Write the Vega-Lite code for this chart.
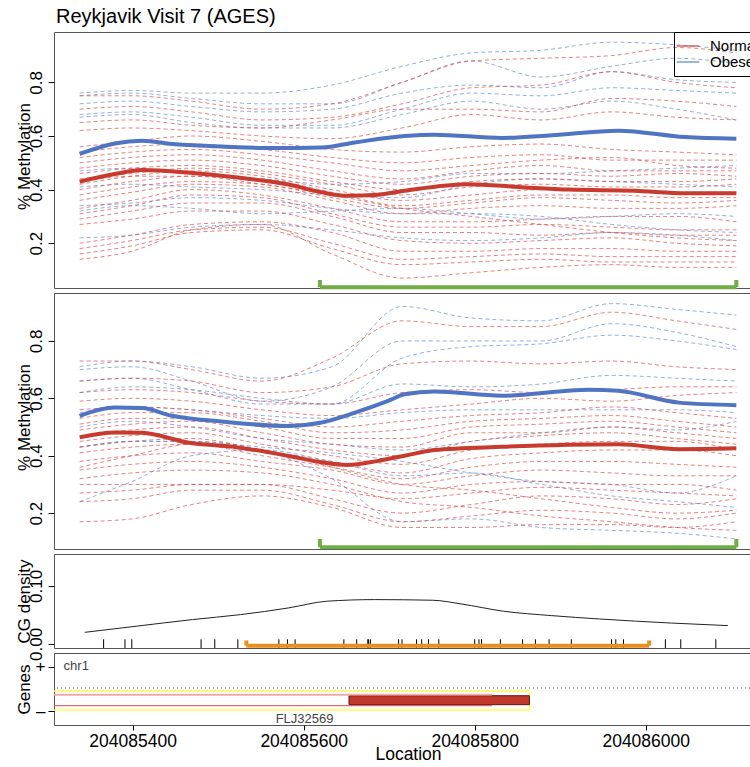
{
"$schema": "https://vega.github.io/schema/vega-lite/v6.json",
"padding": {"left": 14, "top": 6, "right": 0, "bottom": 0},
"config": {
  "font": "Liberation Sans",
  "view": {"stroke": "#555", "strokeWidth": 1},
  "axis": {"grid": false, "domain": false, "labelFont": "Liberation Sans", "titleFont": "Liberation Sans", "labelColor": "#000", "titleColor": "#000", "tickColor": "#000", "titleFontWeight": "normal", "labelFontSize": 17, "titleFontSize": 17}
},
"spacing": 5,
"bounds": "flush",
"resolve": {"scale": {"x": "independent", "y": "independent", "color": "independent"}},
"datasets": {
"p1": [
{"s":"o1","g":"Obese","x":204085338,"y":0.76},{"s":"o1","g":"Obese","x":204085399,"y":0.77},{"s":"o1","g":"Obese","x":204085469,"y":0.76},{"s":"o1","g":"Obese","x":204085551,"y":0.76},{"s":"o1","g":"Obese","x":204085633,"y":0.79},{"s":"o1","g":"Obese","x":204085715,"y":0.86},{"s":"o1","g":"Obese","x":204085796,"y":0.91},{"s":"o1","g":"Obese","x":204085878,"y":0.92},{"s":"o1","g":"Obese","x":204085960,"y":0.95},{"s":"o1","g":"Obese","x":204086036,"y":0.94},{"s":"o1","g":"Obese","x":204086106,"y":0.92},
{"s":"o2","g":"Obese","x":204085338,"y":0.75},{"s":"o2","g":"Obese","x":204085399,"y":0.76},{"s":"o2","g":"Obese","x":204085469,"y":0.74},{"s":"o2","g":"Obese","x":204085551,"y":0.72},{"s":"o2","g":"Obese","x":204085633,"y":0.72},{"s":"o2","g":"Obese","x":204085715,"y":0.80},{"s":"o2","g":"Obese","x":204085796,"y":0.88},{"s":"o2","g":"Obese","x":204085878,"y":0.82},{"s":"o2","g":"Obese","x":204085960,"y":0.86},{"s":"o2","g":"Obese","x":204086036,"y":0.89},{"s":"o2","g":"Obese","x":204086106,"y":0.87},
{"s":"o3","g":"Obese","x":204085338,"y":0.72},{"s":"o3","g":"Obese","x":204085399,"y":0.73},{"s":"o3","g":"Obese","x":204085469,"y":0.71},{"s":"o3","g":"Obese","x":204085551,"y":0.69},{"s":"o3","g":"Obese","x":204085633,"y":0.70},{"s":"o3","g":"Obese","x":204085715,"y":0.76},{"s":"o3","g":"Obese","x":204085796,"y":0.79},{"s":"o3","g":"Obese","x":204085878,"y":0.78},{"s":"o3","g":"Obese","x":204085960,"y":0.84},{"s":"o3","g":"Obese","x":204086036,"y":0.81},{"s":"o3","g":"Obese","x":204086106,"y":0.80},
{"s":"o4","g":"Obese","x":204085338,"y":0.68},{"s":"o4","g":"Obese","x":204085399,"y":0.69},{"s":"o4","g":"Obese","x":204085469,"y":0.67},{"s":"o4","g":"Obese","x":204085551,"y":0.64},{"s":"o4","g":"Obese","x":204085633,"y":0.64},{"s":"o4","g":"Obese","x":204085715,"y":0.70},{"s":"o4","g":"Obese","x":204085796,"y":0.76},{"s":"o4","g":"Obese","x":204085878,"y":0.75},{"s":"o4","g":"Obese","x":204085960,"y":0.78},{"s":"o4","g":"Obese","x":204086036,"y":0.77},{"s":"o4","g":"Obese","x":204086106,"y":0.76},
{"s":"o5","g":"Obese","x":204085338,"y":0.67},{"s":"o5","g":"Obese","x":204085399,"y":0.68},{"s":"o5","g":"Obese","x":204085469,"y":0.65},{"s":"o5","g":"Obese","x":204085551,"y":0.63},{"s":"o5","g":"Obese","x":204085633,"y":0.63},{"s":"o5","g":"Obese","x":204085715,"y":0.68},{"s":"o5","g":"Obese","x":204085796,"y":0.73},{"s":"o5","g":"Obese","x":204085878,"y":0.70},{"s":"o5","g":"Obese","x":204085960,"y":0.73},{"s":"o5","g":"Obese","x":204086036,"y":0.70},{"s":"o5","g":"Obese","x":204086106,"y":0.66},
{"s":"o6","g":"Obese","x":204085338,"y":0.47},{"s":"o6","g":"Obese","x":204085399,"y":0.48},{"s":"o6","g":"Obese","x":204085469,"y":0.46},{"s":"o6","g":"Obese","x":204085551,"y":0.44},{"s":"o6","g":"Obese","x":204085633,"y":0.42},{"s":"o6","g":"Obese","x":204085715,"y":0.43},{"s":"o6","g":"Obese","x":204085796,"y":0.46},{"s":"o6","g":"Obese","x":204085878,"y":0.46},{"s":"o6","g":"Obese","x":204085960,"y":0.47},{"s":"o6","g":"Obese","x":204086036,"y":0.48},{"s":"o6","g":"Obese","x":204086106,"y":0.49},
{"s":"o7","g":"Obese","x":204085338,"y":0.41},{"s":"o7","g":"Obese","x":204085399,"y":0.42},{"s":"o7","g":"Obese","x":204085469,"y":0.41},{"s":"o7","g":"Obese","x":204085551,"y":0.40},{"s":"o7","g":"Obese","x":204085633,"y":0.38},{"s":"o7","g":"Obese","x":204085715,"y":0.37},{"s":"o7","g":"Obese","x":204085796,"y":0.42},{"s":"o7","g":"Obese","x":204085878,"y":0.44},{"s":"o7","g":"Obese","x":204085960,"y":0.43},{"s":"o7","g":"Obese","x":204086036,"y":0.42},{"s":"o7","g":"Obese","x":204086106,"y":0.41},
{"s":"o8","g":"Obese","x":204085338,"y":0.34},{"s":"o8","g":"Obese","x":204085399,"y":0.35},{"s":"o8","g":"Obese","x":204085469,"y":0.37},{"s":"o8","g":"Obese","x":204085551,"y":0.36},{"s":"o8","g":"Obese","x":204085633,"y":0.33},{"s":"o8","g":"Obese","x":204085715,"y":0.31},{"s":"o8","g":"Obese","x":204085796,"y":0.31},{"s":"o8","g":"Obese","x":204085878,"y":0.30},{"s":"o8","g":"Obese","x":204085960,"y":0.27},{"s":"o8","g":"Obese","x":204086036,"y":0.25},{"s":"o8","g":"Obese","x":204086106,"y":0.24},
{"s":"o9","g":"Obese","x":204085338,"y":0.22},{"s":"o9","g":"Obese","x":204085399,"y":0.23},{"s":"o9","g":"Obese","x":204085469,"y":0.26},{"s":"o9","g":"Obese","x":204085551,"y":0.27},{"s":"o9","g":"Obese","x":204085633,"y":0.25},{"s":"o9","g":"Obese","x":204085715,"y":0.22},{"s":"o9","g":"Obese","x":204085796,"y":0.21},{"s":"o9","g":"Obese","x":204085878,"y":0.22},{"s":"o9","g":"Obese","x":204085960,"y":0.24},{"s":"o9","g":"Obese","x":204086036,"y":0.23},{"s":"o9","g":"Obese","x":204086106,"y":0.21},
{"s":"o10","g":"Obese","x":204085338,"y":0.32},{"s":"o10","g":"Obese","x":204085399,"y":0.34},{"s":"o10","g":"Obese","x":204085469,"y":0.33},{"s":"o10","g":"Obese","x":204085551,"y":0.31},{"s":"o10","g":"Obese","x":204085633,"y":0.32},{"s":"o10","g":"Obese","x":204085715,"y":0.33},{"s":"o10","g":"Obese","x":204085796,"y":0.31},{"s":"o10","g":"Obese","x":204085878,"y":0.29},{"s":"o10","g":"Obese","x":204085960,"y":0.30},{"s":"o10","g":"Obese","x":204086036,"y":0.31},{"s":"o10","g":"Obese","x":204086106,"y":0.30},
{"s":"n1","g":"Normal","x":204085338,"y":0.75},{"s":"n1","g":"Normal","x":204085399,"y":0.75},{"s":"n1","g":"Normal","x":204085469,"y":0.73},{"s":"n1","g":"Normal","x":204085551,"y":0.70},{"s":"n1","g":"Normal","x":204085633,"y":0.72},{"s":"n1","g":"Normal","x":204085715,"y":0.80},{"s":"n1","g":"Normal","x":204085796,"y":0.88},{"s":"n1","g":"Normal","x":204085878,"y":0.89},{"s":"n1","g":"Normal","x":204085960,"y":0.90},{"s":"n1","g":"Normal","x":204086036,"y":0.93},{"s":"n1","g":"Normal","x":204086106,"y":0.91},
{"s":"n2","g":"Normal","x":204085338,"y":0.70},{"s":"n2","g":"Normal","x":204085399,"y":0.71},{"s":"n2","g":"Normal","x":204085469,"y":0.69},{"s":"n2","g":"Normal","x":204085551,"y":0.66},{"s":"n2","g":"Normal","x":204085633,"y":0.67},{"s":"n2","g":"Normal","x":204085715,"y":0.72},{"s":"n2","g":"Normal","x":204085796,"y":0.78},{"s":"n2","g":"Normal","x":204085878,"y":0.79},{"s":"n2","g":"Normal","x":204085960,"y":0.84},{"s":"n2","g":"Normal","x":204086036,"y":0.80},{"s":"n2","g":"Normal","x":204086106,"y":0.78},
{"s":"n3","g":"Normal","x":204085338,"y":0.65},{"s":"n3","g":"Normal","x":204085399,"y":0.66},{"s":"n3","g":"Normal","x":204085469,"y":0.64},{"s":"n3","g":"Normal","x":204085551,"y":0.63},{"s":"n3","g":"Normal","x":204085633,"y":0.66},{"s":"n3","g":"Normal","x":204085715,"y":0.70},{"s":"n3","g":"Normal","x":204085796,"y":0.70},{"s":"n3","g":"Normal","x":204085878,"y":0.69},{"s":"n3","g":"Normal","x":204085960,"y":0.74},{"s":"n3","g":"Normal","x":204086036,"y":0.73},{"s":"n3","g":"Normal","x":204086106,"y":0.71},
{"s":"n4","g":"Normal","x":204085338,"y":0.62},{"s":"n4","g":"Normal","x":204085399,"y":0.63},{"s":"n4","g":"Normal","x":204085469,"y":0.62},{"s":"n4","g":"Normal","x":204085551,"y":0.60},{"s":"n4","g":"Normal","x":204085633,"y":0.59},{"s":"n4","g":"Normal","x":204085715,"y":0.63},{"s":"n4","g":"Normal","x":204085796,"y":0.68},{"s":"n4","g":"Normal","x":204085878,"y":0.66},{"s":"n4","g":"Normal","x":204085960,"y":0.69},{"s":"n4","g":"Normal","x":204086036,"y":0.67},{"s":"n4","g":"Normal","x":204086106,"y":0.66},
{"s":"n5","g":"Normal","x":204085338,"y":0.56},{"s":"n5","g":"Normal","x":204085399,"y":0.58},{"s":"n5","g":"Normal","x":204085469,"y":0.60},{"s":"n5","g":"Normal","x":204085551,"y":0.58},{"s":"n5","g":"Normal","x":204085633,"y":0.55},{"s":"n5","g":"Normal","x":204085715,"y":0.54},{"s":"n5","g":"Normal","x":204085796,"y":0.56},{"s":"n5","g":"Normal","x":204085878,"y":0.57},{"s":"n5","g":"Normal","x":204085960,"y":0.55},{"s":"n5","g":"Normal","x":204086036,"y":0.54},{"s":"n5","g":"Normal","x":204086106,"y":0.53},
{"s":"n6","g":"Normal","x":204085338,"y":0.54},{"s":"n6","g":"Normal","x":204085399,"y":0.56},{"s":"n6","g":"Normal","x":204085469,"y":0.57},{"s":"n6","g":"Normal","x":204085551,"y":0.55},{"s":"n6","g":"Normal","x":204085633,"y":0.52},{"s":"n6","g":"Normal","x":204085715,"y":0.50},{"s":"n6","g":"Normal","x":204085796,"y":0.52},{"s":"n6","g":"Normal","x":204085878,"y":0.53},{"s":"n6","g":"Normal","x":204085960,"y":0.51},{"s":"n6","g":"Normal","x":204086036,"y":0.51},{"s":"n6","g":"Normal","x":204086106,"y":0.51},
{"s":"n7","g":"Normal","x":204085338,"y":0.52},{"s":"n7","g":"Normal","x":204085399,"y":0.54},{"s":"n7","g":"Normal","x":204085469,"y":0.55},{"s":"n7","g":"Normal","x":204085551,"y":0.53},{"s":"n7","g":"Normal","x":204085633,"y":0.50},{"s":"n7","g":"Normal","x":204085715,"y":0.47},{"s":"n7","g":"Normal","x":204085796,"y":0.49},{"s":"n7","g":"Normal","x":204085878,"y":0.51},{"s":"n7","g":"Normal","x":204085960,"y":0.52},{"s":"n7","g":"Normal","x":204086036,"y":0.49},{"s":"n7","g":"Normal","x":204086106,"y":0.48},
{"s":"n8","g":"Normal","x":204085338,"y":0.50},{"s":"n8","g":"Normal","x":204085399,"y":0.52},{"s":"n8","g":"Normal","x":204085469,"y":0.53},{"s":"n8","g":"Normal","x":204085551,"y":0.51},{"s":"n8","g":"Normal","x":204085633,"y":0.47},{"s":"n8","g":"Normal","x":204085715,"y":0.44},{"s":"n8","g":"Normal","x":204085796,"y":0.47},{"s":"n8","g":"Normal","x":204085878,"y":0.49},{"s":"n8","g":"Normal","x":204085960,"y":0.47},{"s":"n8","g":"Normal","x":204086036,"y":0.47},{"s":"n8","g":"Normal","x":204086106,"y":0.47},
{"s":"n9","g":"Normal","x":204085338,"y":0.48},{"s":"n9","g":"Normal","x":204085399,"y":0.50},{"s":"n9","g":"Normal","x":204085469,"y":0.51},{"s":"n9","g":"Normal","x":204085551,"y":0.49},{"s":"n9","g":"Normal","x":204085633,"y":0.45},{"s":"n9","g":"Normal","x":204085715,"y":0.42},{"s":"n9","g":"Normal","x":204085796,"y":0.45},{"s":"n9","g":"Normal","x":204085878,"y":0.46},{"s":"n9","g":"Normal","x":204085960,"y":0.45},{"s":"n9","g":"Normal","x":204086036,"y":0.46},{"s":"n9","g":"Normal","x":204086106,"y":0.45},
{"s":"n10","g":"Normal","x":204085338,"y":0.46},{"s":"n10","g":"Normal","x":204085399,"y":0.48},{"s":"n10","g":"Normal","x":204085469,"y":0.49},{"s":"n10","g":"Normal","x":204085551,"y":0.47},{"s":"n10","g":"Normal","x":204085633,"y":0.43},{"s":"n10","g":"Normal","x":204085715,"y":0.40},{"s":"n10","g":"Normal","x":204085796,"y":0.43},{"s":"n10","g":"Normal","x":204085878,"y":0.44},{"s":"n10","g":"Normal","x":204085960,"y":0.43},{"s":"n10","g":"Normal","x":204086036,"y":0.43},{"s":"n10","g":"Normal","x":204086106,"y":0.44},
{"s":"n11","g":"Normal","x":204085338,"y":0.44},{"s":"n11","g":"Normal","x":204085399,"y":0.46},{"s":"n11","g":"Normal","x":204085469,"y":0.48},{"s":"n11","g":"Normal","x":204085551,"y":0.46},{"s":"n11","g":"Normal","x":204085633,"y":0.42},{"s":"n11","g":"Normal","x":204085715,"y":0.38},{"s":"n11","g":"Normal","x":204085796,"y":0.41},{"s":"n11","g":"Normal","x":204085878,"y":0.42},{"s":"n11","g":"Normal","x":204085960,"y":0.41},{"s":"n11","g":"Normal","x":204086036,"y":0.41},{"s":"n11","g":"Normal","x":204086106,"y":0.42},
{"s":"n12","g":"Normal","x":204085338,"y":0.42},{"s":"n12","g":"Normal","x":204085399,"y":0.45},{"s":"n12","g":"Normal","x":204085469,"y":0.47},{"s":"n12","g":"Normal","x":204085551,"y":0.45},{"s":"n12","g":"Normal","x":204085633,"y":0.40},{"s":"n12","g":"Normal","x":204085715,"y":0.36},{"s":"n12","g":"Normal","x":204085796,"y":0.38},{"s":"n12","g":"Normal","x":204085878,"y":0.40},{"s":"n12","g":"Normal","x":204085960,"y":0.40},{"s":"n12","g":"Normal","x":204086036,"y":0.39},{"s":"n12","g":"Normal","x":204086106,"y":0.39},
{"s":"n13","g":"Normal","x":204085338,"y":0.40},{"s":"n13","g":"Normal","x":204085399,"y":0.43},{"s":"n13","g":"Normal","x":204085469,"y":0.45},{"s":"n13","g":"Normal","x":204085551,"y":0.44},{"s":"n13","g":"Normal","x":204085633,"y":0.39},{"s":"n13","g":"Normal","x":204085715,"y":0.34},{"s":"n13","g":"Normal","x":204085796,"y":0.36},{"s":"n13","g":"Normal","x":204085878,"y":0.38},{"s":"n13","g":"Normal","x":204085960,"y":0.38},{"s":"n13","g":"Normal","x":204086036,"y":0.37},{"s":"n13","g":"Normal","x":204086106,"y":0.37},
{"s":"n14","g":"Normal","x":204085338,"y":0.38},{"s":"n14","g":"Normal","x":204085399,"y":0.41},{"s":"n14","g":"Normal","x":204085469,"y":0.43},{"s":"n14","g":"Normal","x":204085551,"y":0.42},{"s":"n14","g":"Normal","x":204085633,"y":0.37},{"s":"n14","g":"Normal","x":204085715,"y":0.33},{"s":"n14","g":"Normal","x":204085796,"y":0.35},{"s":"n14","g":"Normal","x":204085878,"y":0.37},{"s":"n14","g":"Normal","x":204085960,"y":0.36},{"s":"n14","g":"Normal","x":204086036,"y":0.35},{"s":"n14","g":"Normal","x":204086106,"y":0.36},
{"s":"n15","g":"Normal","x":204085338,"y":0.36},{"s":"n15","g":"Normal","x":204085399,"y":0.39},{"s":"n15","g":"Normal","x":204085469,"y":0.42},{"s":"n15","g":"Normal","x":204085551,"y":0.41},{"s":"n15","g":"Normal","x":204085633,"y":0.36},{"s":"n15","g":"Normal","x":204085715,"y":0.31},{"s":"n15","g":"Normal","x":204085796,"y":0.33},{"s":"n15","g":"Normal","x":204085878,"y":0.34},{"s":"n15","g":"Normal","x":204085960,"y":0.33},{"s":"n15","g":"Normal","x":204086036,"y":0.33},{"s":"n15","g":"Normal","x":204086106,"y":0.34},
{"s":"n16","g":"Normal","x":204085338,"y":0.33},{"s":"n16","g":"Normal","x":204085399,"y":0.36},{"s":"n16","g":"Normal","x":204085469,"y":0.40},{"s":"n16","g":"Normal","x":204085551,"y":0.38},{"s":"n16","g":"Normal","x":204085633,"y":0.33},{"s":"n16","g":"Normal","x":204085715,"y":0.28},{"s":"n16","g":"Normal","x":204085796,"y":0.28},{"s":"n16","g":"Normal","x":204085878,"y":0.29},{"s":"n16","g":"Normal","x":204085960,"y":0.30},{"s":"n16","g":"Normal","x":204086036,"y":0.30},{"s":"n16","g":"Normal","x":204086106,"y":0.28},
{"s":"n17","g":"Normal","x":204085338,"y":0.31},{"s":"n17","g":"Normal","x":204085399,"y":0.34},{"s":"n17","g":"Normal","x":204085469,"y":0.38},{"s":"n17","g":"Normal","x":204085551,"y":0.37},{"s":"n17","g":"Normal","x":204085633,"y":0.31},{"s":"n17","g":"Normal","x":204085715,"y":0.26},{"s":"n17","g":"Normal","x":204085796,"y":0.26},{"s":"n17","g":"Normal","x":204085878,"y":0.27},{"s":"n17","g":"Normal","x":204085960,"y":0.26},{"s":"n17","g":"Normal","x":204086036,"y":0.25},{"s":"n17","g":"Normal","x":204086106,"y":0.25},
{"s":"n18","g":"Normal","x":204085338,"y":0.29},{"s":"n18","g":"Normal","x":204085399,"y":0.32},{"s":"n18","g":"Normal","x":204085469,"y":0.35},{"s":"n18","g":"Normal","x":204085551,"y":0.35},{"s":"n18","g":"Normal","x":204085633,"y":0.30},{"s":"n18","g":"Normal","x":204085715,"y":0.24},{"s":"n18","g":"Normal","x":204085796,"y":0.24},{"s":"n18","g":"Normal","x":204085878,"y":0.23},{"s":"n18","g":"Normal","x":204085960,"y":0.24},{"s":"n18","g":"Normal","x":204086036,"y":0.23},{"s":"n18","g":"Normal","x":204086106,"y":0.23},
{"s":"n19","g":"Normal","x":204085338,"y":0.27},{"s":"n19","g":"Normal","x":204085399,"y":0.29},{"s":"n19","g":"Normal","x":204085469,"y":0.32},{"s":"n19","g":"Normal","x":204085551,"y":0.32},{"s":"n19","g":"Normal","x":204085633,"y":0.27},{"s":"n19","g":"Normal","x":204085715,"y":0.21},{"s":"n19","g":"Normal","x":204085796,"y":0.20},{"s":"n19","g":"Normal","x":204085878,"y":0.21},{"s":"n19","g":"Normal","x":204085960,"y":0.22},{"s":"n19","g":"Normal","x":204086036,"y":0.20},{"s":"n19","g":"Normal","x":204086106,"y":0.19},
{"s":"n20","g":"Normal","x":204085338,"y":0.20},{"s":"n20","g":"Normal","x":204085399,"y":0.23},{"s":"n20","g":"Normal","x":204085469,"y":0.27},{"s":"n20","g":"Normal","x":204085551,"y":0.28},{"s":"n20","g":"Normal","x":204085633,"y":0.24},{"s":"n20","g":"Normal","x":204085715,"y":0.17},{"s":"n20","g":"Normal","x":204085796,"y":0.17},{"s":"n20","g":"Normal","x":204085878,"y":0.18},{"s":"n20","g":"Normal","x":204085960,"y":0.18},{"s":"n20","g":"Normal","x":204086036,"y":0.17},{"s":"n20","g":"Normal","x":204086106,"y":0.17},
{"s":"n21","g":"Normal","x":204085338,"y":0.18},{"s":"n21","g":"Normal","x":204085399,"y":0.21},{"s":"n21","g":"Normal","x":204085469,"y":0.25},{"s":"n21","g":"Normal","x":204085551,"y":0.26},{"s":"n21","g":"Normal","x":204085633,"y":0.20},{"s":"n21","g":"Normal","x":204085715,"y":0.14},{"s":"n21","g":"Normal","x":204085796,"y":0.15},{"s":"n21","g":"Normal","x":204085878,"y":0.16},{"s":"n21","g":"Normal","x":204085960,"y":0.15},{"s":"n21","g":"Normal","x":204086036,"y":0.15},{"s":"n21","g":"Normal","x":204086106,"y":0.15},
{"s":"n22","g":"Normal","x":204085338,"y":0.16},{"s":"n22","g":"Normal","x":204085399,"y":0.19},{"s":"n22","g":"Normal","x":204085469,"y":0.24},{"s":"n22","g":"Normal","x":204085551,"y":0.25},{"s":"n22","g":"Normal","x":204085633,"y":0.18},{"s":"n22","g":"Normal","x":204085715,"y":0.12},{"s":"n22","g":"Normal","x":204085796,"y":0.13},{"s":"n22","g":"Normal","x":204085878,"y":0.14},{"s":"n22","g":"Normal","x":204085960,"y":0.13},{"s":"n22","g":"Normal","x":204086036,"y":0.13},{"s":"n22","g":"Normal","x":204086106,"y":0.13},
{"s":"n23","g":"Normal","x":204085338,"y":0.14},{"s":"n23","g":"Normal","x":204085399,"y":0.17},{"s":"n23","g":"Normal","x":204085469,"y":0.25},{"s":"n23","g":"Normal","x":204085551,"y":0.27},{"s":"n23","g":"Normal","x":204085633,"y":0.16},{"s":"n23","g":"Normal","x":204085715,"y":0.07},{"s":"n23","g":"Normal","x":204085796,"y":0.09},{"s":"n23","g":"Normal","x":204085878,"y":0.11},{"s":"n23","g":"Normal","x":204085960,"y":0.12},{"s":"n23","g":"Normal","x":204086036,"y":0.11},{"s":"n23","g":"Normal","x":204086106,"y":0.11},
{"s":"n24","g":"Normal","x":204085338,"y":0.43},{"s":"n24","g":"Normal","x":204085399,"y":0.45},{"s":"n24","g":"Normal","x":204085469,"y":0.45},{"s":"n24","g":"Normal","x":204085551,"y":0.42},{"s":"n24","g":"Normal","x":204085633,"y":0.38},{"s":"n24","g":"Normal","x":204085715,"y":0.33},{"s":"n24","g":"Normal","x":204085796,"y":0.30},{"s":"n24","g":"Normal","x":204085878,"y":0.27},{"s":"n24","g":"Normal","x":204085960,"y":0.24},{"s":"n24","g":"Normal","x":204086036,"y":0.22},{"s":"n24","g":"Normal","x":204086106,"y":0.21}
],
"a1": [
{"g":"Obese","x":204085338,"y":0.533},{"g":"Obese","x":204085379,"y":0.572},{"g":"Obese","x":204085411,"y":0.582},{"g":"Obese","x":204085446,"y":0.57},{"g":"Obese","x":204085504,"y":0.561},{"g":"Obese","x":204085563,"y":0.555},{"g":"Obese","x":204085621,"y":0.557},{"g":"Obese","x":204085660,"y":0.576},{"g":"Obese","x":204085718,"y":0.60},{"g":"Obese","x":204085753,"y":0.605},{"g":"Obese","x":204085832,"y":0.593},{"g":"Obese","x":204085890,"y":0.603},{"g":"Obese","x":204085968,"y":0.62},{"g":"Obese","x":204086046,"y":0.596},{"g":"Obese","x":204086106,"y":0.59},
{"g":"Normal","x":204085338,"y":0.43},{"g":"Normal","x":204085379,"y":0.458},{"g":"Normal","x":204085411,"y":0.473},{"g":"Normal","x":204085464,"y":0.464},{"g":"Normal","x":204085523,"y":0.445},{"g":"Normal","x":204085581,"y":0.42},{"g":"Normal","x":204085621,"y":0.39},{"g":"Normal","x":204085651,"y":0.377},{"g":"Normal","x":204085683,"y":0.38},{"g":"Normal","x":204085718,"y":0.396},{"g":"Normal","x":204085793,"y":0.42},{"g":"Normal","x":204085851,"y":0.41},{"g":"Normal","x":204085910,"y":0.40},{"g":"Normal","x":204085987,"y":0.396},{"g":"Normal","x":204086046,"y":0.386},{"g":"Normal","x":204086106,"y":0.386}
],
"p2": [
{"s":"o1","g":"Obese","x":204085338,"y":0.71},{"s":"o1","g":"Obese","x":204085399,"y":0.73},{"s":"o1","g":"Obese","x":204085469,"y":0.71},{"s":"o1","g":"Obese","x":204085551,"y":0.67},{"s":"o1","g":"Obese","x":204085633,"y":0.71},{"s":"o1","g":"Obese","x":204085715,"y":0.92},{"s":"o1","g":"Obese","x":204085796,"y":0.88},{"s":"o1","g":"Obese","x":204085878,"y":0.87},{"s":"o1","g":"Obese","x":204085960,"y":0.93},{"s":"o1","g":"Obese","x":204086036,"y":0.91},{"s":"o1","g":"Obese","x":204086106,"y":0.89},
{"s":"o2","g":"Obese","x":204085338,"y":0.70},{"s":"o2","g":"Obese","x":204085399,"y":0.71},{"s":"o2","g":"Obese","x":204085469,"y":0.66},{"s":"o2","g":"Obese","x":204085551,"y":0.59},{"s":"o2","g":"Obese","x":204085633,"y":0.64},{"s":"o2","g":"Obese","x":204085715,"y":0.80},{"s":"o2","g":"Obese","x":204085796,"y":0.80},{"s":"o2","g":"Obese","x":204085878,"y":0.80},{"s":"o2","g":"Obese","x":204085960,"y":0.86},{"s":"o2","g":"Obese","x":204086036,"y":0.83},{"s":"o2","g":"Obese","x":204086106,"y":0.78},
{"s":"o3","g":"Obese","x":204085338,"y":0.66},{"s":"o3","g":"Obese","x":204085399,"y":0.67},{"s":"o3","g":"Obese","x":204085469,"y":0.63},{"s":"o3","g":"Obese","x":204085551,"y":0.58},{"s":"o3","g":"Obese","x":204085633,"y":0.58},{"s":"o3","g":"Obese","x":204085715,"y":0.65},{"s":"o3","g":"Obese","x":204085796,"y":0.64},{"s":"o3","g":"Obese","x":204085878,"y":0.65},{"s":"o3","g":"Obese","x":204085960,"y":0.68},{"s":"o3","g":"Obese","x":204086036,"y":0.67},{"s":"o3","g":"Obese","x":204086106,"y":0.66},
{"s":"o4","g":"Obese","x":204085338,"y":0.62},{"s":"o4","g":"Obese","x":204085399,"y":0.64},{"s":"o4","g":"Obese","x":204085469,"y":0.63},{"s":"o4","g":"Obese","x":204085551,"y":0.60},{"s":"o4","g":"Obese","x":204085633,"y":0.58},{"s":"o4","g":"Obese","x":204085715,"y":0.74},{"s":"o4","g":"Obese","x":204085796,"y":0.78},{"s":"o4","g":"Obese","x":204085878,"y":0.79},{"s":"o4","g":"Obese","x":204085960,"y":0.82},{"s":"o4","g":"Obese","x":204086036,"y":0.80},{"s":"o4","g":"Obese","x":204086106,"y":0.77},
{"s":"o5","g":"Obese","x":204085338,"y":0.55},{"s":"o5","g":"Obese","x":204085399,"y":0.57},{"s":"o5","g":"Obese","x":204085469,"y":0.56},{"s":"o5","g":"Obese","x":204085551,"y":0.54},{"s":"o5","g":"Obese","x":204085633,"y":0.53},{"s":"o5","g":"Obese","x":204085715,"y":0.55},{"s":"o5","g":"Obese","x":204085796,"y":0.56},{"s":"o5","g":"Obese","x":204085878,"y":0.56},{"s":"o5","g":"Obese","x":204085960,"y":0.56},{"s":"o5","g":"Obese","x":204086036,"y":0.56},{"s":"o5","g":"Obese","x":204086106,"y":0.55},
{"s":"o6","g":"Obese","x":204085338,"y":0.43},{"s":"o6","g":"Obese","x":204085399,"y":0.45},{"s":"o6","g":"Obese","x":204085469,"y":0.45},{"s":"o6","g":"Obese","x":204085551,"y":0.43},{"s":"o6","g":"Obese","x":204085633,"y":0.41},{"s":"o6","g":"Obese","x":204085715,"y":0.38},{"s":"o6","g":"Obese","x":204085796,"y":0.34},{"s":"o6","g":"Obese","x":204085878,"y":0.31},{"s":"o6","g":"Obese","x":204085960,"y":0.30},{"s":"o6","g":"Obese","x":204086036,"y":0.27},{"s":"o6","g":"Obese","x":204086106,"y":0.33},
{"s":"o7","g":"Obese","x":204085338,"y":0.43},{"s":"o7","g":"Obese","x":204085399,"y":0.45},{"s":"o7","g":"Obese","x":204085469,"y":0.45},{"s":"o7","g":"Obese","x":204085551,"y":0.42},{"s":"o7","g":"Obese","x":204085633,"y":0.32},{"s":"o7","g":"Obese","x":204085715,"y":0.17},{"s":"o7","g":"Obese","x":204085796,"y":0.18},{"s":"o7","g":"Obese","x":204085878,"y":0.15},{"s":"o7","g":"Obese","x":204085960,"y":0.14},{"s":"o7","g":"Obese","x":204086036,"y":0.13},{"s":"o7","g":"Obese","x":204086106,"y":0.11},
{"s":"o8","g":"Obese","x":204085338,"y":0.24},{"s":"o8","g":"Obese","x":204085399,"y":0.31},{"s":"o8","g":"Obese","x":204085469,"y":0.40},{"s":"o8","g":"Obese","x":204085551,"y":0.42},{"s":"o8","g":"Obese","x":204085633,"y":0.38},{"s":"o8","g":"Obese","x":204085715,"y":0.33},{"s":"o8","g":"Obese","x":204085796,"y":0.34},{"s":"o8","g":"Obese","x":204085878,"y":0.30},{"s":"o8","g":"Obese","x":204085960,"y":0.26},{"s":"o8","g":"Obese","x":204086036,"y":0.24},{"s":"o8","g":"Obese","x":204086106,"y":0.22},
{"s":"o9","g":"Obese","x":204085338,"y":0.50},{"s":"o9","g":"Obese","x":204085399,"y":0.52},{"s":"o9","g":"Obese","x":204085469,"y":0.50},{"s":"o9","g":"Obese","x":204085551,"y":0.46},{"s":"o9","g":"Obese","x":204085633,"y":0.44},{"s":"o9","g":"Obese","x":204085715,"y":0.42},{"s":"o9","g":"Obese","x":204085796,"y":0.45},{"s":"o9","g":"Obese","x":204085878,"y":0.48},{"s":"o9","g":"Obese","x":204085960,"y":0.50},{"s":"o9","g":"Obese","x":204086036,"y":0.49},{"s":"o9","g":"Obese","x":204086106,"y":0.52},
{"s":"n1","g":"Normal","x":204085338,"y":0.73},{"s":"n1","g":"Normal","x":204085399,"y":0.73},{"s":"n1","g":"Normal","x":204085469,"y":0.70},{"s":"n1","g":"Normal","x":204085551,"y":0.66},{"s":"n1","g":"Normal","x":204085633,"y":0.74},{"s":"n1","g":"Normal","x":204085715,"y":0.87},{"s":"n1","g":"Normal","x":204085796,"y":0.85},{"s":"n1","g":"Normal","x":204085878,"y":0.85},{"s":"n1","g":"Normal","x":204085960,"y":0.90},{"s":"n1","g":"Normal","x":204086036,"y":0.87},{"s":"n1","g":"Normal","x":204086106,"y":0.84},
{"s":"n2","g":"Normal","x":204085338,"y":0.66},{"s":"n2","g":"Normal","x":204085399,"y":0.67},{"s":"n2","g":"Normal","x":204085469,"y":0.66},{"s":"n2","g":"Normal","x":204085551,"y":0.62},{"s":"n2","g":"Normal","x":204085633,"y":0.64},{"s":"n2","g":"Normal","x":204085715,"y":0.72},{"s":"n2","g":"Normal","x":204085796,"y":0.73},{"s":"n2","g":"Normal","x":204085878,"y":0.72},{"s":"n2","g":"Normal","x":204085960,"y":0.73},{"s":"n2","g":"Normal","x":204086036,"y":0.71},{"s":"n2","g":"Normal","x":204086106,"y":0.70},
{"s":"n3","g":"Normal","x":204085338,"y":0.62},{"s":"n3","g":"Normal","x":204085399,"y":0.63},{"s":"n3","g":"Normal","x":204085469,"y":0.62},{"s":"n3","g":"Normal","x":204085551,"y":0.59},{"s":"n3","g":"Normal","x":204085633,"y":0.58},{"s":"n3","g":"Normal","x":204085715,"y":0.62},{"s":"n3","g":"Normal","x":204085796,"y":0.63},{"s":"n3","g":"Normal","x":204085878,"y":0.62},{"s":"n3","g":"Normal","x":204085960,"y":0.63},{"s":"n3","g":"Normal","x":204086036,"y":0.64},{"s":"n3","g":"Normal","x":204086106,"y":0.64},
{"s":"n4","g":"Normal","x":204085338,"y":0.59},{"s":"n4","g":"Normal","x":204085399,"y":0.60},{"s":"n4","g":"Normal","x":204085469,"y":0.59},{"s":"n4","g":"Normal","x":204085551,"y":0.56},{"s":"n4","g":"Normal","x":204085633,"y":0.54},{"s":"n4","g":"Normal","x":204085715,"y":0.56},{"s":"n4","g":"Normal","x":204085796,"y":0.58},{"s":"n4","g":"Normal","x":204085878,"y":0.60},{"s":"n4","g":"Normal","x":204085960,"y":0.59},{"s":"n4","g":"Normal","x":204086036,"y":0.61},{"s":"n4","g":"Normal","x":204086106,"y":0.62},
{"s":"n5","g":"Normal","x":204085338,"y":0.56},{"s":"n5","g":"Normal","x":204085399,"y":0.57},{"s":"n5","g":"Normal","x":204085469,"y":0.56},{"s":"n5","g":"Normal","x":204085551,"y":0.53},{"s":"n5","g":"Normal","x":204085633,"y":0.50},{"s":"n5","g":"Normal","x":204085715,"y":0.52},{"s":"n5","g":"Normal","x":204085796,"y":0.54},{"s":"n5","g":"Normal","x":204085878,"y":0.55},{"s":"n5","g":"Normal","x":204085960,"y":0.57},{"s":"n5","g":"Normal","x":204086036,"y":0.55},{"s":"n5","g":"Normal","x":204086106,"y":0.53},
{"s":"n6","g":"Normal","x":204085338,"y":0.53},{"s":"n6","g":"Normal","x":204085399,"y":0.55},{"s":"n6","g":"Normal","x":204085469,"y":0.55},{"s":"n6","g":"Normal","x":204085551,"y":0.52},{"s":"n6","g":"Normal","x":204085633,"y":0.48},{"s":"n6","g":"Normal","x":204085715,"y":0.49},{"s":"n6","g":"Normal","x":204085796,"y":0.52},{"s":"n6","g":"Normal","x":204085878,"y":0.53},{"s":"n6","g":"Normal","x":204085960,"y":0.54},{"s":"n6","g":"Normal","x":204086036,"y":0.52},{"s":"n6","g":"Normal","x":204086106,"y":0.50},
{"s":"n7","g":"Normal","x":204085338,"y":0.51},{"s":"n7","g":"Normal","x":204085399,"y":0.53},{"s":"n7","g":"Normal","x":204085469,"y":0.53},{"s":"n7","g":"Normal","x":204085551,"y":0.50},{"s":"n7","g":"Normal","x":204085633,"y":0.46},{"s":"n7","g":"Normal","x":204085715,"y":0.46},{"s":"n7","g":"Normal","x":204085796,"y":0.50},{"s":"n7","g":"Normal","x":204085878,"y":0.51},{"s":"n7","g":"Normal","x":204085960,"y":0.52},{"s":"n7","g":"Normal","x":204086036,"y":0.50},{"s":"n7","g":"Normal","x":204086106,"y":0.48},
{"s":"n8","g":"Normal","x":204085338,"y":0.49},{"s":"n8","g":"Normal","x":204085399,"y":0.51},{"s":"n8","g":"Normal","x":204085469,"y":0.52},{"s":"n8","g":"Normal","x":204085551,"y":0.48},{"s":"n8","g":"Normal","x":204085633,"y":0.44},{"s":"n8","g":"Normal","x":204085715,"y":0.43},{"s":"n8","g":"Normal","x":204085796,"y":0.48},{"s":"n8","g":"Normal","x":204085878,"y":0.48},{"s":"n8","g":"Normal","x":204085960,"y":0.50},{"s":"n8","g":"Normal","x":204086036,"y":0.48},{"s":"n8","g":"Normal","x":204086106,"y":0.46},
{"s":"n9","g":"Normal","x":204085338,"y":0.47},{"s":"n9","g":"Normal","x":204085399,"y":0.49},{"s":"n9","g":"Normal","x":204085469,"y":0.50},{"s":"n9","g":"Normal","x":204085551,"y":0.46},{"s":"n9","g":"Normal","x":204085633,"y":0.42},{"s":"n9","g":"Normal","x":204085715,"y":0.40},{"s":"n9","g":"Normal","x":204085796,"y":0.45},{"s":"n9","g":"Normal","x":204085878,"y":0.47},{"s":"n9","g":"Normal","x":204085960,"y":0.48},{"s":"n9","g":"Normal","x":204086036,"y":0.46},{"s":"n9","g":"Normal","x":204086106,"y":0.44},
{"s":"n10","g":"Normal","x":204085338,"y":0.45},{"s":"n10","g":"Normal","x":204085399,"y":0.47},{"s":"n10","g":"Normal","x":204085469,"y":0.48},{"s":"n10","g":"Normal","x":204085551,"y":0.44},{"s":"n10","g":"Normal","x":204085633,"y":0.40},{"s":"n10","g":"Normal","x":204085715,"y":0.37},{"s":"n10","g":"Normal","x":204085796,"y":0.42},{"s":"n10","g":"Normal","x":204085878,"y":0.44},{"s":"n10","g":"Normal","x":204085960,"y":0.45},{"s":"n10","g":"Normal","x":204086036,"y":0.45},{"s":"n10","g":"Normal","x":204086106,"y":0.42},
{"s":"n11","g":"Normal","x":204085338,"y":0.43},{"s":"n11","g":"Normal","x":204085399,"y":0.45},{"s":"n11","g":"Normal","x":204085469,"y":0.46},{"s":"n11","g":"Normal","x":204085551,"y":0.42},{"s":"n11","g":"Normal","x":204085633,"y":0.38},{"s":"n11","g":"Normal","x":204085715,"y":0.34},{"s":"n11","g":"Normal","x":204085796,"y":0.39},{"s":"n11","g":"Normal","x":204085878,"y":0.41},{"s":"n11","g":"Normal","x":204085960,"y":0.42},{"s":"n11","g":"Normal","x":204086036,"y":0.42},{"s":"n11","g":"Normal","x":204086106,"y":0.40},
{"s":"n12","g":"Normal","x":204085338,"y":0.41},{"s":"n12","g":"Normal","x":204085399,"y":0.43},{"s":"n12","g":"Normal","x":204085469,"y":0.44},{"s":"n12","g":"Normal","x":204085551,"y":0.40},{"s":"n12","g":"Normal","x":204085633,"y":0.36},{"s":"n12","g":"Normal","x":204085715,"y":0.32},{"s":"n12","g":"Normal","x":204085796,"y":0.36},{"s":"n12","g":"Normal","x":204085878,"y":0.38},{"s":"n12","g":"Normal","x":204085960,"y":0.38},{"s":"n12","g":"Normal","x":204086036,"y":0.37},{"s":"n12","g":"Normal","x":204086106,"y":0.36},
{"s":"n13","g":"Normal","x":204085338,"y":0.38},{"s":"n13","g":"Normal","x":204085399,"y":0.40},{"s":"n13","g":"Normal","x":204085469,"y":0.41},{"s":"n13","g":"Normal","x":204085551,"y":0.38},{"s":"n13","g":"Normal","x":204085633,"y":0.35},{"s":"n13","g":"Normal","x":204085715,"y":0.30},{"s":"n13","g":"Normal","x":204085796,"y":0.33},{"s":"n13","g":"Normal","x":204085878,"y":0.35},{"s":"n13","g":"Normal","x":204085960,"y":0.34},{"s":"n13","g":"Normal","x":204086036,"y":0.33},{"s":"n13","g":"Normal","x":204086106,"y":0.33},
{"s":"n14","g":"Normal","x":204085338,"y":0.35},{"s":"n14","g":"Normal","x":204085399,"y":0.37},{"s":"n14","g":"Normal","x":204085469,"y":0.38},{"s":"n14","g":"Normal","x":204085551,"y":0.36},{"s":"n14","g":"Normal","x":204085633,"y":0.32},{"s":"n14","g":"Normal","x":204085715,"y":0.27},{"s":"n14","g":"Normal","x":204085796,"y":0.30},{"s":"n14","g":"Normal","x":204085878,"y":0.31},{"s":"n14","g":"Normal","x":204085960,"y":0.30},{"s":"n14","g":"Normal","x":204086036,"y":0.30},{"s":"n14","g":"Normal","x":204086106,"y":0.28},
{"s":"n15","g":"Normal","x":204085338,"y":0.30},{"s":"n15","g":"Normal","x":204085399,"y":0.30},{"s":"n15","g":"Normal","x":204085469,"y":0.30},{"s":"n15","g":"Normal","x":204085551,"y":0.30},{"s":"n15","g":"Normal","x":204085633,"y":0.28},{"s":"n15","g":"Normal","x":204085715,"y":0.25},{"s":"n15","g":"Normal","x":204085796,"y":0.27},{"s":"n15","g":"Normal","x":204085878,"y":0.29},{"s":"n15","g":"Normal","x":204085960,"y":0.28},{"s":"n15","g":"Normal","x":204086036,"y":0.27},{"s":"n15","g":"Normal","x":204086106,"y":0.26},
{"s":"n16","g":"Normal","x":204085338,"y":0.27},{"s":"n16","g":"Normal","x":204085399,"y":0.28},{"s":"n16","g":"Normal","x":204085469,"y":0.30},{"s":"n16","g":"Normal","x":204085551,"y":0.30},{"s":"n16","g":"Normal","x":204085633,"y":0.25},{"s":"n16","g":"Normal","x":204085715,"y":0.20},{"s":"n16","g":"Normal","x":204085796,"y":0.23},{"s":"n16","g":"Normal","x":204085878,"y":0.26},{"s":"n16","g":"Normal","x":204085960,"y":0.25},{"s":"n16","g":"Normal","x":204086036,"y":0.23},{"s":"n16","g":"Normal","x":204086106,"y":0.25},
{"s":"n17","g":"Normal","x":204085338,"y":0.24},{"s":"n17","g":"Normal","x":204085399,"y":0.25},{"s":"n17","g":"Normal","x":204085469,"y":0.28},{"s":"n17","g":"Normal","x":204085551,"y":0.28},{"s":"n17","g":"Normal","x":204085633,"y":0.23},{"s":"n17","g":"Normal","x":204085715,"y":0.17},{"s":"n17","g":"Normal","x":204085796,"y":0.19},{"s":"n17","g":"Normal","x":204085878,"y":0.21},{"s":"n17","g":"Normal","x":204085960,"y":0.20},{"s":"n17","g":"Normal","x":204086036,"y":0.18},{"s":"n17","g":"Normal","x":204086106,"y":0.20},
{"s":"n18","g":"Normal","x":204085338,"y":0.17},{"s":"n18","g":"Normal","x":204085399,"y":0.18},{"s":"n18","g":"Normal","x":204085469,"y":0.23},{"s":"n18","g":"Normal","x":204085551,"y":0.26},{"s":"n18","g":"Normal","x":204085633,"y":0.22},{"s":"n18","g":"Normal","x":204085715,"y":0.15},{"s":"n18","g":"Normal","x":204085796,"y":0.15},{"s":"n18","g":"Normal","x":204085878,"y":0.16},{"s":"n18","g":"Normal","x":204085960,"y":0.16},{"s":"n18","g":"Normal","x":204086036,"y":0.15},{"s":"n18","g":"Normal","x":204086106,"y":0.17},
{"s":"n19","g":"Normal","x":204085338,"y":0.36},{"s":"n19","g":"Normal","x":204085399,"y":0.40},{"s":"n19","g":"Normal","x":204085469,"y":0.44},{"s":"n19","g":"Normal","x":204085551,"y":0.42},{"s":"n19","g":"Normal","x":204085633,"y":0.36},{"s":"n19","g":"Normal","x":204085715,"y":0.30},{"s":"n19","g":"Normal","x":204085796,"y":0.28},{"s":"n19","g":"Normal","x":204085878,"y":0.25},{"s":"n19","g":"Normal","x":204085960,"y":0.22},{"s":"n19","g":"Normal","x":204086036,"y":0.20},{"s":"n19","g":"Normal","x":204086106,"y":0.21},
{"s":"n20","g":"Normal","x":204085338,"y":0.32},{"s":"n20","g":"Normal","x":204085399,"y":0.34},{"s":"n20","g":"Normal","x":204085469,"y":0.35},{"s":"n20","g":"Normal","x":204085551,"y":0.34},{"s":"n20","g":"Normal","x":204085633,"y":0.30},{"s":"n20","g":"Normal","x":204085715,"y":0.24},{"s":"n20","g":"Normal","x":204085796,"y":0.22},{"s":"n20","g":"Normal","x":204085878,"y":0.19},{"s":"n20","g":"Normal","x":204085960,"y":0.17},{"s":"n20","g":"Normal","x":204086036,"y":0.15},{"s":"n20","g":"Normal","x":204086106,"y":0.14}
],
"a2": [
{"g":"Obese","x":204085338,"y":0.539},{"g":"Obese","x":204085379,"y":0.568},{"g":"Obese","x":204085411,"y":0.566},{"g":"Obese","x":204085446,"y":0.539},{"g":"Obese","x":204085504,"y":0.519},{"g":"Obese","x":204085581,"y":0.504},{"g":"Obese","x":204085621,"y":0.516},{"g":"Obese","x":204085660,"y":0.55},{"g":"Obese","x":204085698,"y":0.59},{"g":"Obese","x":204085718,"y":0.614},{"g":"Obese","x":204085753,"y":0.624},{"g":"Obese","x":204085832,"y":0.609},{"g":"Obese","x":204085933,"y":0.63},{"g":"Obese","x":204085968,"y":0.626},{"g":"Obese","x":204086039,"y":0.585},{"g":"Obese","x":204086106,"y":0.576},
{"g":"Normal","x":204085338,"y":0.464},{"g":"Normal","x":204085379,"y":0.481},{"g":"Normal","x":204085411,"y":0.48},{"g":"Normal","x":204085464,"y":0.446},{"g":"Normal","x":204085523,"y":0.429},{"g":"Normal","x":204085581,"y":0.40},{"g":"Normal","x":204085621,"y":0.377},{"g":"Normal","x":204085651,"y":0.368},{"g":"Normal","x":204085687,"y":0.382},{"g":"Normal","x":204085718,"y":0.40},{"g":"Normal","x":204085753,"y":0.42},{"g":"Normal","x":204085832,"y":0.431},{"g":"Normal","x":204085968,"y":0.44},{"g":"Normal","x":204086039,"y":0.423},{"g":"Normal","x":204086106,"y":0.426}
],
"dmr1": [
{"x":204085619,"x2":204086106,"y":0.036,"y2":0.036},{"x":204085619,"x2":204085619,"y":0.036,"y2":0.063},{"x":204086106,"x2":204086106,"y":0.036,"y2":0.063}
],
"dmr2": [
{"x":204085619,"x2":204086106,"y":0.081,"y2":0.081},{"x":204085619,"x2":204085619,"y":0.081,"y2":0.11},{"x":204086106,"x2":204086106,"y":0.081,"y2":0.11}
],
"den": [
{"x":204085344,"y":0.020},{"x":204085404,"y":0.0305},{"x":204085470,"y":0.042},{"x":204085526,"y":0.0505},{"x":204085582,"y":0.062},{"x":204085627,"y":0.0736},{"x":204085683,"y":0.0764},{"x":204085751,"y":0.0753},{"x":204085784,"y":0.069},{"x":204085834,"y":0.0563},{"x":204085890,"y":0.0488},{"x":204085946,"y":0.043},{"x":204086030,"y":0.036},{"x":204086096,"y":0.0316}
],
"rug": [
{"x":204085366},{"x":204085391},{"x":204085399},{"x":204085480},{"x":204085496},{"x":204085523},{"x":204085571},{"x":204085581},{"x":204085590},{"x":204085647},{"x":204085662},{"x":204085675},{"x":204085676},{"x":204085678},{"x":204085711},{"x":204085715},{"x":204085732},{"x":204085738},{"x":204085746},{"x":204085758},{"x":204085800},{"x":204085805},{"x":204085808},{"x":204085830},{"x":204085856},{"x":204085871},{"x":204085887},{"x":204085913},{"x":204085960},{"x":204085965},{"x":204085974},{"x":204086023},{"x":204086041},{"x":204086082}
],
"cgi": [
{"x":204085533,"x2":204086004,"y":-0.003,"y2":-0.003},{"x":204085533,"x2":204085533,"y":-0.003,"y2":0.006},{"x":204086004,"x2":204086004,"y":-0.003,"y2":0.006}
]
},
"vconcat": [
{
  "width": 708, "height": 256,
  "title": {"text": "Reykjavik Visit 7 (AGES)", "anchor": "start", "frame": "group", "fontSize": 20, "fontWeight": "normal", "font": "Liberation Sans", "color": "#000", "offset": 5, "dx": 2},
  "resolve": {"scale": {"color": "independent"}},
  "layer": [
    {"data": {"name": "p1"},
     "mark": {"type": "line", "strokeDash": [4, 3], "strokeWidth": 1, "opacity": 0.65, "interpolate": "monotone", "clip": true},
     "encoding": {
       "x": {"field": "x", "type": "quantitative", "scale": {"domain": [204085308, 204086136], "nice": false, "zero": false}, "axis": null},
       "y": {"field": "y", "type": "quantitative", "scale": {"domain": [0.033, 0.988], "nice": false, "zero": false},
             "axis": {"values": [0.2, 0.4, 0.6, 0.8], "format": ".1f", "title": "% Methylation", "labelAngle": -90, "labelAlign": "center", "labelBaseline": "bottom", "tickSize": 6, "labelPadding": 3, "titleX": -30, "titleY": 124, "titleAngle": -90, "titleAlign": "center", "titleBaseline": "middle"}},
       "color": {"field": "g", "type": "nominal", "scale": {"domain": ["Normal", "Obese"], "range": ["#d9403a", "#5a83d0"]},
                 "legend": {"orient": "none", "legendX": 620, "legendY": 0, "title": null, "strokeColor": "#000", "padding": 6, "symbolType": "M-1.6,0L1.6,0", "symbolSize": 200, "symbolStrokeWidth": 1.5, "symbolDash": [1, 0], "symbolOpacity": 0.8, "labelFontSize": 15, "labelFont": "Liberation Sans", "labelColor": "#000", "rowPadding": -1, "labelOffset": 14}},
       "detail": {"field": "s", "type": "nominal"}
     }},
    {"data": {"name": "a1"},
     "mark": {"type": "line", "strokeWidth": 4, "interpolate": "monotone"},
     "encoding": {
       "x": {"field": "x", "type": "quantitative"},
       "y": {"field": "y", "type": "quantitative"},
       "color": {"field": "g", "type": "nominal", "scale": {"domain": ["Normal", "Obese"], "range": ["#c93a2e", "#4f74c3"]}, "legend": null}
     }},
    {"data": {"name": "dmr1"},
     "mark": {"type": "rule", "color": "#70ad47", "strokeWidth": 4},
     "encoding": {
       "x": {"field": "x", "type": "quantitative"}, "x2": {"field": "x2"},
       "y": {"field": "y", "type": "quantitative"}, "y2": {"field": "y2"}
     }}
  ]
},
{
  "width": 708, "height": 256,
  "resolve": {"scale": {"color": "independent"}},
  "layer": [
    {"data": {"name": "p2"},
     "mark": {"type": "line", "strokeDash": [4, 3], "strokeWidth": 1, "opacity": 0.65, "interpolate": "monotone", "clip": true},
     "encoding": {
       "x": {"field": "x", "type": "quantitative", "scale": {"domain": [204085308, 204086136], "nice": false, "zero": false}, "axis": null},
       "y": {"field": "y", "type": "quantitative", "scale": {"domain": [0.075, 0.967], "nice": false, "zero": false},
             "axis": {"values": [0.2, 0.4, 0.6, 0.8], "format": ".1f", "title": "% Methylation", "labelAngle": -90, "labelAlign": "center", "labelBaseline": "bottom", "tickSize": 6, "labelPadding": 3, "titleX": -30, "titleY": 124, "titleAngle": -90, "titleAlign": "center", "titleBaseline": "middle"}},
       "color": {"field": "g", "type": "nominal", "scale": {"domain": ["Normal", "Obese"], "range": ["#d9403a", "#5a83d0"]}, "legend": null},
       "detail": {"field": "s", "type": "nominal"}
     }},
    {"data": {"name": "a2"},
     "mark": {"type": "line", "strokeWidth": 4, "interpolate": "monotone"},
     "encoding": {
       "x": {"field": "x", "type": "quantitative"},
       "y": {"field": "y", "type": "quantitative"},
       "color": {"field": "g", "type": "nominal", "scale": {"domain": ["Normal", "Obese"], "range": ["#c93a2e", "#4f74c3"]}, "legend": null}
     }},
    {"data": {"name": "dmr2"},
     "mark": {"type": "rule", "color": "#70ad47", "strokeWidth": 4},
     "encoding": {
       "x": {"field": "x", "type": "quantitative"}, "x2": {"field": "x2"},
       "y": {"field": "y", "type": "quantitative"}, "y2": {"field": "y2"}
     }}
  ]
},
{
  "width": 708, "height": 94,
  "layer": [
    {"data": {"name": "den"},
     "mark": {"type": "line", "color": "#222", "strokeWidth": 1, "interpolate": "monotone"},
     "encoding": {
       "x": {"field": "x", "type": "quantitative", "scale": {"domain": [204085308, 204086136], "nice": false, "zero": false}, "axis": null},
       "y": {"field": "y", "type": "quantitative", "scale": {"domain": [-0.007, 0.155], "nice": false, "zero": false},
             "axis": {"values": [0, 0.1], "format": ".2f", "labelOverlap": false, "title": "CG density", "labelAngle": -90, "labelAlign": "center", "labelBaseline": "bottom", "tickSize": 6, "labelPadding": 3, "titleX": -30, "titleY": 47, "titleAngle": -90, "titleAlign": "center", "titleBaseline": "middle"}}
     }},
    {"data": {"name": "rug"},
     "mark": {"type": "rule", "color": "#000", "strokeWidth": 1},
     "encoding": {
       "x": {"field": "x", "type": "quantitative"},
       "y": {"datum": -0.007, "type": "quantitative"},
       "y2": {"datum": 0.008}
     }},
    {"data": {"name": "cgi"},
     "mark": {"type": "rule", "color": "#e8901e", "strokeWidth": 4},
     "encoding": {
       "x": {"field": "x", "type": "quantitative"}, "x2": {"field": "x2"},
       "y": {"field": "y", "type": "quantitative"}, "y2": {"field": "y2"}
     }}
  ]
},
{
  "width": 708, "height": 72,
  "layer": [
    {"data": {"values": [{"y": 0.514}]},
     "mark": {"type": "rule", "color": "#555", "strokeDash": [1, 3], "strokeWidth": 1},
     "encoding": {
       "y": {"field": "y", "type": "quantitative", "scale": {"domain": [0, 1], "nice": false, "zero": false},
             "axis": {"values": [0.194, 0.806], "labelExpr": "datum.value > 0.5 ? '+' : '–'", "title": "Genes", "labelAngle": 0, "tickSize": 6, "labelPadding": 3, "labelFontSize": 17, "titleX": -30, "titleY": 36, "titleAngle": -90, "titleAlign": "center", "titleBaseline": "middle"}}
     }},
    {"data": {"values": [{"x": 204085200, "x2": 204085864, "y": 0.208, "y2": 0.472}]},
     "mark": {"type": "rect", "fill": null, "fillOpacity": 0, "stroke": "#ffff55", "strokeWidth": 1.5, "clip": true},
     "encoding": {
       "x": {"field": "x", "type": "quantitative", "scale": {"domain": [204085308, 204086136], "nice": false, "zero": false},
             "axis": {"values": [204085400, 204085600, 204085800, 204086000], "format": "d", "title": "Location", "tickSize": 5, "labelPadding": 2, "labelFontSize": 17.5, "titleFontSize": 17.5, "titleX": 354, "titleY": 20, "titleBaseline": "top", "labelOverlap": false, "labelFlush": false}},
       "x2": {"field": "x2"},
       "y": {"field": "y", "type": "quantitative"}, "y2": {"field": "y2"}
     }},
    {"data": {"values": [{"x": 204085653, "x2": 204085864, "y": 0.282, "y2": 0.407}]},
     "mark": {"type": "rect", "fill": "#c0392b", "stroke": "#5b1a12", "strokeWidth": 1},
     "encoding": {
       "x": {"field": "x", "type": "quantitative"}, "x2": {"field": "x2"},
       "y": {"field": "y", "type": "quantitative"}, "y2": {"field": "y2"}
     }},
    {"data": {"values": [{"x": 204085200, "x2": 204085820, "y": 0.421, "w": "top"}]},
     "mark": {"type": "rule", "color": "#f09a9a", "strokeWidth": 2, "opacity": 0.85, "clip": true},
     "encoding": {
       "x": {"field": "x", "type": "quantitative"}, "x2": {"field": "x2"},
       "y": {"field": "y", "type": "quantitative"}
     }},
    {"data": {"values": [{"x": 204085200, "x2": 204085820, "y": 0.268, "w": "bottom"}]},
     "mark": {"type": "rule", "color": "#e05050", "strokeWidth": 1.2, "opacity": 0.85, "clip": true},
     "encoding": {
       "x": {"field": "x", "type": "quantitative"}, "x2": {"field": "x2"},
       "y": {"field": "y", "type": "quantitative"}
     }},
    {"data": {"values": [{"x": 204085334, "y": 0.82, "t": "chr1"}, {"x": 204085601, "y": 0.083, "t": "FLJ32569"}]},
     "mark": {"type": "text", "fontSize": 13, "font": "Liberation Sans", "color": "#444", "baseline": "middle"},
     "encoding": {
       "x": {"field": "x", "type": "quantitative"},
       "y": {"field": "y", "type": "quantitative"},
       "text": {"field": "t"},
       "align": {"condition": {"test": "datum.t == 'chr1'", "value": "left"}, "value": "center"}
     }}
  ]
}
]
}
